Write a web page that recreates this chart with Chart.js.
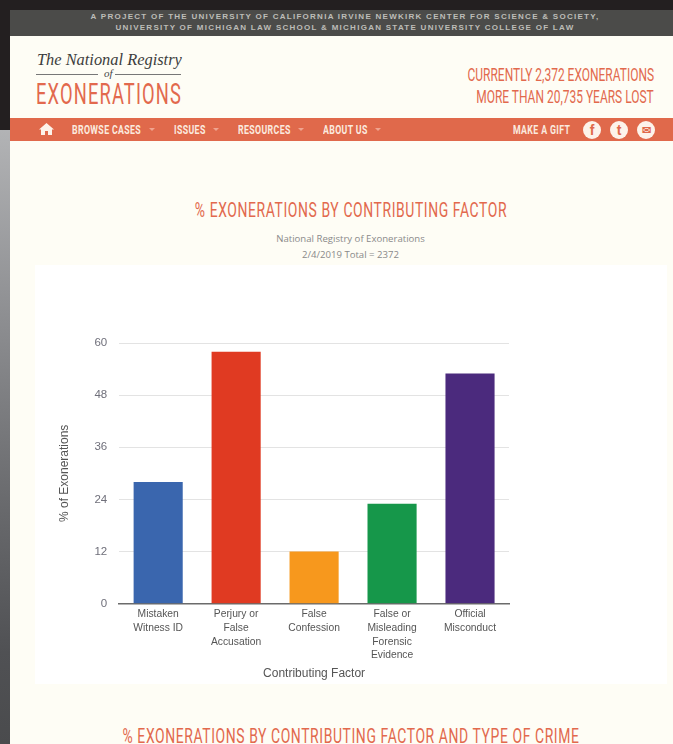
<!DOCTYPE html>
<html><head><meta charset="utf-8">
<style>
html,body{margin:0;padding:0;width:673px;height:744px;overflow:hidden;background:#fefdf5;font-family:"Liberation Sans",sans-serif}
.abs{position:absolute;white-space:nowrap}
.narrow{font-family:"Roboto",sans-serif;text-transform:uppercase}
#top{left:0;top:0;width:673px;height:10px;background:#231f20}
#left1{left:0;top:0;width:10px;height:130px;background:#231f20}
#left2{left:0;top:130px;width:10px;height:614px;background:linear-gradient(#b2b3b5,#8e8f92 30%,#6a6b6e 60%,#505154 85%,#4a4b4d)}
#strip{left:10px;top:10px;width:663px;height:26px;background:#4b4b49;color:#bdbdb8;font:bold 8px "Liberation Sans",sans-serif;letter-spacing:1.27px;text-align:center;line-height:10.5px;padding:2px 0 0 7px;box-sizing:border-box}
#nav{left:10px;top:118px;width:663px;height:23px;background:#e0694b}
.navt{top:123px;color:#fbe9df;font:bold 12px "Roboto",sans-serif;letter-spacing:.5px;transform:scaleX(.73);transform-origin:left center}
.car{top:128px;width:0;height:0;border-left:3.5px solid transparent;border-right:3.5px solid transparent;border-top:3.5px solid #f0a48f}
.ic{top:121px;width:18px;height:18px;border-radius:50%;background:#fdf3ea;color:#e0694b;font:bold 14px/18px "Liberation Sans",sans-serif;text-align:center}
.t{color:#e2694d;text-align:center;left:-49.5px;width:800px;transform-origin:center}
.ttl{font-size:21px;letter-spacing:.9px;transform:scaleX(.663)}
.sub{font:9.6px 'Open Sans',sans-serif;color:#8a8a8a}
.rt{right:19px;font-size:19px;color:#e2694d;transform:scaleX(.63);transform-origin:right center}
#chartWrap{left:35px;top:265px;width:632px;height:419px;background:#fff}
</style></head><body>
<div class="abs" id="top"></div><div class="abs" id="left1"></div><div class="abs" id="left2"></div>
<div class="abs" id="strip">A PROJECT OF THE UNIVERSITY OF CALIFORNIA IRVINE NEWKIRK CENTER FOR SCIENCE &amp; SOCIETY,<br>UNIVERSITY OF MICHIGAN LAW SCHOOL &amp; MICHIGAN STATE UNIVERSITY COLLEGE OF LAW</div>
<div class="abs" style="left:37px;top:50px;font:italic 16.4px 'Liberation Serif',serif;color:#3d3d3d">The National Registry</div>
<div class="abs" style="left:36px;top:74px;width:62px;height:1px;background:#777"></div>
<div class="abs" style="left:115px;top:74px;width:66px;height:1px;background:#777"></div>
<div class="abs" style="left:104px;top:67px;font:italic 11px 'Liberation Serif',serif;color:#444">of</div>
<div class="abs narrow" style="left:36px;top:79px;font-size:30px;color:#e2694d;letter-spacing:1.9px;line-height:30px;transform:scaleX(.61);transform-origin:left center">Exonerations</div>
<div class="abs narrow rt" style="top:63px">Currently 2,372 Exonerations</div>
<div class="abs narrow rt" style="top:85px">More than 20,735 Years Lost</div>
<div class="abs" id="nav"></div>
<svg class="abs" style="left:39px;top:123px" width="15" height="12" viewBox="0 0 15 12"><path d="M7.5 0L15 6.5H13V12H9V8H6V12H2V6.5H0Z" fill="#fdf3ea"/></svg>
<div class="abs navt" style="left:72px">BROWSE CASES</div><div class="abs car" style="left:149px"></div>
<div class="abs navt" style="left:174px">ISSUES</div><div class="abs car" style="left:213px"></div>
<div class="abs navt" style="left:238px">RESOURCES</div><div class="abs car" style="left:298px"></div>
<div class="abs navt" style="left:323px">ABOUT US</div><div class="abs car" style="left:375px"></div>
<div class="abs navt" style="left:513px">MAKE A GIFT</div>
<div class="abs ic" style="left:583px">f</div><div class="abs ic" style="left:610px">t</div><div class="abs ic" style="left:637px;font-size:11px">✉</div>
<div class="abs narrow t ttl" style="top:198px">% Exonerations by Contributing Factor</div>
<div class="abs t sub" style="top:232px">National Registry of Exonerations</div>
<div class="abs t sub" style="top:248px">2/4/2019 Total = 2372</div>
<div class="abs" id="chartWrap"><canvas id="c" width="632" height="419"></canvas></div>
<div class="abs narrow t ttl" style="top:724px">% Exonerations by Contributing Factor and Type of Crime</div>
<script src="https://cdn.jsdelivr.net/npm/chart.js@4"></script>
<script>
const categories=[["Mistaken","Witness ID"],["Perjury or","False","Accusation"],["False","Confession"],["False or","Misleading","Forensic","Evidence"],["Official","Misconduct"]];
const values=[28,58,12,23,53];
const barColors=["#3a66ae","#e03a22","#f7981d","#16974a","#4b2a7d"];
const yTicks=[0,12,24,36,48,60];
const yTitle="% of Exonerations";
const xTitle="Contributing Factor";
Chart.defaults.font.family='"Liberation Sans",Arial,sans-serif';
new Chart(document.getElementById('c'),{
 type:'bar',
 data:{labels:categories,datasets:[{data:values,backgroundColor:barColors,barPercentage:.63,categoryPercentage:1}]},
 options:{responsive:false,animation:false,
  layout:{padding:{left:22,right:158,top:78,bottom:3.5}},
  plugins:{legend:{display:false},tooltip:{enabled:false}},
  scales:{
   x:{grid:{display:false,drawTicks:false},border:{color:'#6b6b6b',width:1.5},
      ticks:{color:'#555',font:{size:10.3,lineHeight:1.32},maxRotation:0,autoSkip:false,padding:4},
      title:{display:true,text:xTitle,color:'#555',font:{size:12},padding:{top:0,bottom:0}}},
   y:{min:0,max:60,afterBuildTicks:a=>{a.ticks=yTicks.map(v=>({value:v}))},
      grid:{color:'#e3e3e3',drawTicks:false},border:{display:false},
      ticks:{color:'#6f6f7a',font:{size:11.5},padding:12},
      title:{display:true,text:yTitle,color:'#555',font:{size:12},padding:{top:0,bottom:11}}}
  }}
});
</script>
</body></html>
